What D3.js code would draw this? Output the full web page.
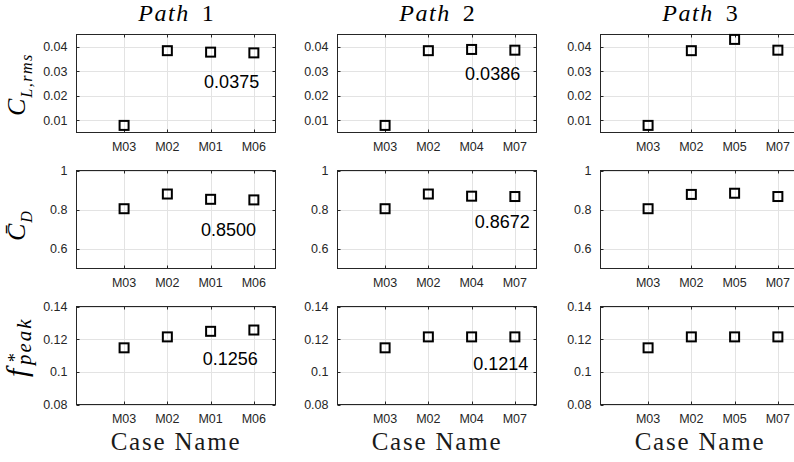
<!DOCTYPE html>
<html><head><meta charset="utf-8">
<script src="https://cdn.jsdelivr.net/npm/d3@7"></script>
<style>
html,body{margin:0;padding:0;background:#fff;}
svg{display:block;}
</style></head>
<body>
<svg id="chart" width="794" height="462"></svg>
<script>
// ---------- data ----------
const pathNumbers = ["1", "2", "3"];
const caseNames = [
  ["M03", "M02", "M01", "M06"],
  ["M03", "M02", "M04", "M07"],
  ["M03", "M02", "M05", "M07"]
];
const clRms = [
  [0.0079, 0.0384, 0.0378, 0.0375],
  [0.0079, 0.0384, 0.0389, 0.0386],
  [0.0079, 0.0384, 0.0430, 0.0386]
];
const cdMean = [
  [0.805, 0.880, 0.853, 0.8500],
  [0.805, 0.880, 0.869, 0.8672],
  [0.805, 0.878, 0.884, 0.8672]
];
const fPeak = [
  [0.1147, 0.1214, 0.1248, 0.1256],
  [0.1147, 0.1214, 0.1214, 0.1214],
  [0.1147, 0.1214, 0.1214, 0.1214]
];
const yDomains = [[0.005, 0.045], [0.5, 1], [0.08, 0.14]];
const yTicks = [[0.01, 0.02, 0.03, 0.04], [0.6, 0.8, 1], [0.08, 0.1, 0.12, 0.14]];
const xDomain = [-0.1, 4.5];
// annotation labels: [row][col] text, x in case-index units, y in data units
const annotText = [["0.0375", "0.0386", ""], ["0.8500", "0.8672", ""], ["0.1256", "0.1214", ""]];
const annotX = [[2.85, 2.85, 0], [2.78, 3.07, 0], [2.82, 3.04, 0]];
const annotY = [[0.0233, 0.0265, 0], [0.666, 0.708, 0], [0.1044, 0.1014, 0]];
const xLabel = "Case Name";

const rowsData = [clRms, cdMean, fPeak];

// ---------- layout ----------
const svg = d3.select("#chart");
const colLeft = [76.5, 337.5, 600.5];
const rowTop = [34.5, 170.5, 306.5];
const pw = 199, ph = 98;
const axisColor = "#262626";
const gridColor = "#e3e3e3";
const tickFont = "'Liberation Sans', Arial, Helvetica, sans-serif";
const serif = "'Liberation Serif', 'Times New Roman', serif";

for (let r = 0; r < 3; r++) {
  for (let c = 0; c < 3; c++) {
    const x0 = colLeft[c], y0 = rowTop[r];
    const x = d3.scaleLinear().domain(xDomain).range([x0, x0 + pw]);
    const y = d3.scaleLinear().domain(yDomains[r]).range([y0 + ph, y0]);
    const g = svg.append("g");
    const idx = caseNames[c].map((d, i) => i + 1);

    // grid
    g.selectAll(".gy").data(yTicks[r]).join("line")
      .attr("x1", x0).attr("x2", x0 + pw)
      .attr("y1", d => Math.round(y(d)) + 0.5).attr("y2", d => Math.round(y(d)) + 0.5)
      .attr("stroke", gridColor).attr("stroke-width", 1);
    g.selectAll(".gx").data(idx).join("line")
      .attr("x1", d => Math.round(x(d)) + 0.5).attr("x2", d => Math.round(x(d)) + 0.5)
      .attr("y1", y0).attr("y2", y0 + ph)
      .attr("stroke", gridColor).attr("stroke-width", 1);

    // box
    g.append("rect").attr("x", x0).attr("y", y0).attr("width", pw).attr("height", ph)
      .attr("fill", "none").attr("stroke", axisColor).attr("stroke-width", 1);

    // ticks (inward, all sides)
    yTicks[r].forEach(t => {
      const yy = Math.round(y(t)) + 0.5;
      g.append("line").attr("x1", x0).attr("x2", x0 + 3).attr("y1", yy).attr("y2", yy).attr("stroke", axisColor);
      g.append("line").attr("x1", x0 + pw - 3).attr("x2", x0 + pw).attr("y1", yy).attr("y2", yy).attr("stroke", axisColor);
    });
    idx.forEach(t => {
      const xx = Math.round(x(t)) + 0.5;
      g.append("line").attr("x1", xx).attr("x2", xx).attr("y1", y0 + ph - 3).attr("y2", y0 + ph).attr("stroke", axisColor);
      g.append("line").attr("x1", xx).attr("x2", xx).attr("y1", y0).attr("y2", y0 + 3).attr("stroke", axisColor);
    });

    // y tick labels
    g.selectAll(".yl").data(yTicks[r]).join("text")
      .attr("x", x0 - 9).attr("y", d => y(d)).attr("dy", "0.35em")
      .attr("text-anchor", "end").attr("font-family", tickFont).attr("font-size", 12.5)
      .attr("fill", axisColor).text(d => d3.format("~g")(d));

    // x tick labels
    g.selectAll(".xl").data(caseNames[c]).join("text")
      .attr("x", (d, i) => x(i + 1)).attr("y", y0 + ph + 18)
      .attr("text-anchor", "middle").attr("font-family", tickFont).attr("font-size", 12.5)
      .attr("fill", axisColor).text(d => d);

    // markers
    const vals = rowsData[r][c];
    g.selectAll(".m").data(vals).join("rect")
      .attr("x", (d, i) => x(i + 1) - 4.5).attr("y", d => y(d) - 4.5)
      .attr("width", 9).attr("height", 9)
      .attr("fill", "none").attr("stroke", "#000").attr("stroke-width", 2);

    // annotation
    if (annotText[r][c]) {
      g.append("text").attr("x", x(annotX[r][c])).attr("y", y(annotY[r][c]))
        .attr("font-family", tickFont).attr("font-size", 18).attr("fill", "#000")
        .text(annotText[r][c]);
    }

    // titles
    if (r === 0) {
      const t = svg.append("text").attr("x", x0 + pw / 2).attr("y", 21)
        .attr("text-anchor", "middle").attr("font-family", serif).attr("font-size", 24)
        .attr("fill", "#000");
      t.append("tspan").attr("font-style", "italic").attr("letter-spacing", 1.5).text("Path");
      t.append("tspan").text("\u00a0\u00a0" + pathNumbers[c]);
    }
    // x label
    if (r === 2) {
      svg.append("text").attr("x", x0 + pw / 2).attr("y", 450)
        .attr("text-anchor", "middle").attr("font-family", serif).attr("font-size", 25)
        .attr("letter-spacing", 1.8).attr("fill", "#1a1a1a").text(xLabel);
    }
  }
}

// y labels (rotated, reading bottom to top)
function yLab(tx, ty) {
  return svg.append("text").attr("transform", `translate(${tx},${ty}) rotate(-90)`)
    .attr("font-family", serif).attr("fill", "#000").attr("font-style", "italic");
}
{
  const t = yLab(25, 116);
  t.append("tspan").attr("font-size", 26).text("C");
  t.append("tspan").attr("font-size", 16).attr("dy", 7).attr("dx", 1).attr("letter-spacing", 1.5).text("L,rms");
}
{
  const t = yLab(25, 241);
  t.append("tspan").attr("font-size", 26).text("C\u0304");
  t.append("tspan").attr("font-size", 16).attr("dy", 7).attr("dx", 1).text("D");
}
{
  const t = yLab(27, 377);
  t.append("tspan").attr("font-size", 30).text("f");
  t.append("tspan").attr("font-size", 18).attr("x", 14).attr("dy", -6).text("*");
  t.append("tspan").attr("font-size", 21).attr("x", 12).attr("dy", 10).attr("letter-spacing", 2).text("peak");
}
</script>
</body></html>
